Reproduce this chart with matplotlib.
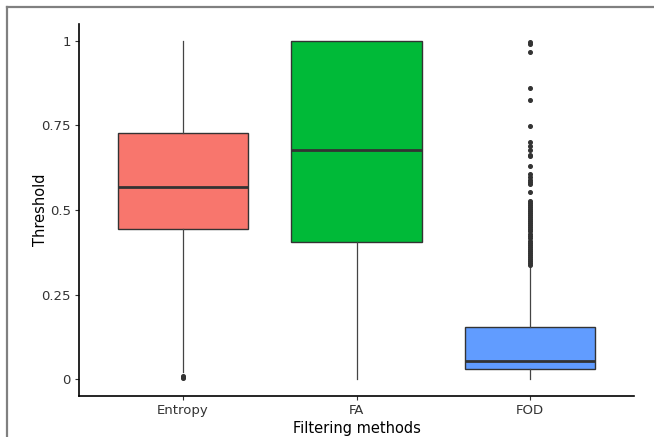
import matplotlib.pyplot as plt
from matplotlib.lines import Line2D

methods = ["Entropy", "FA", "FOD"]
colors = ["#F8766D", "#00BA38", "#619CFF"]

# box stats
whisker_low = [0.02, 0.0, 0.0]
q1 = [0.445, 0.404, 0.03]
median = [0.569, 0.676, 0.053]
q3 = [0.729, 1.0, 0.153]
whisker_high = [1.0, 1.0, 0.33]

entropy_out = [0.003, 0.006, 0.009]
fa_out = []
fod_out = [0.338, 0.343, 0.349, 0.355, 0.361, 0.367, 0.373, 0.379, 0.385,
           0.391, 0.397, 0.403, 0.409, 0.416, 0.423, 0.430, 0.437, 0.443,
           0.449, 0.455, 0.461, 0.467, 0.473, 0.479, 0.486, 0.492, 0.498,
           0.504, 0.510, 0.516, 0.521, 0.526, 0.552, 0.576, 0.583, 0.590,
           0.598, 0.605, 0.629, 0.659, 0.664, 0.676, 0.688, 0.700, 0.747,
           0.824, 0.861, 0.966, 0.990, 0.997]
outliers = [entropy_out, fa_out, fod_out]

stats = []
for i in range(len(methods)):
    stats.append({
        "whislo": whisker_low[i], "q1": q1[i], "med": median[i],
        "q3": q3[i], "whishi": whisker_high[i], "fliers": outliers[i],
    })

fig = plt.figure(figsize=(6.54, 4.37), dpi=100)
ax = fig.add_axes([79 / 654, 41 / 437, 555 / 654, 372 / 437])

edge = "#333333"
bp = ax.bxp(stats, positions=[1, 2, 3], widths=0.75, patch_artist=True,
            showcaps=False,
            boxprops=dict(edgecolor=edge, linewidth=1.0),
            medianprops=dict(color=edge, linewidth=2.0),
            whiskerprops=dict(color="#444444", linewidth=0.9),
            flierprops=dict(marker="o", markersize=2.6, markerfacecolor=edge,
                            markeredgecolor=edge, linestyle="none"))
for patch, c in zip(bp["boxes"], colors):
    patch.set_facecolor(c)
    patch.set_zorder(2)

ax.set_xlim(0.4, 3.6)
ax.set_ylim(-0.05, 1.05)
ax.set_xticks([1, 2, 3])
ax.set_xticklabels(methods)
ax.set_yticks([0, 0.25, 0.5, 0.75, 1])
ax.set_yticklabels(["0", "0.25", "0.5", "0.75", "1"])
ax.tick_params(labelsize=9.5, colors="#333333", length=3, width=0.8, pad=3)
for lab in ax.get_xticklabels() + ax.get_yticklabels():
    lab.set_color("#333333")

for side in ["top", "right"]:
    ax.spines[side].set_visible(False)
for side in ["left", "bottom"]:
    ax.spines[side].set_linewidth(1.2)
    ax.spines[side].set_color("black")

ax.set_xlabel("Filtering methods", fontsize=10.5, labelpad=3)
ax.set_ylabel("Threshold", fontsize=10.5)
ax.yaxis.set_label_coords(-0.055, 0.5)

# grey frame on top and left edge of the image
fig.add_artist(Line2D([7 / 654, 1], [1 - 7 / 437, 1 - 7 / 437],
                      color="#808080", linewidth=1.6, transform=fig.transFigure))
fig.add_artist(Line2D([7 / 654, 7 / 654], [0, 1 - 7 / 437],
                      color="#808080", linewidth=1.6, transform=fig.transFigure))

fig.savefig("out.png", dpi=100)
